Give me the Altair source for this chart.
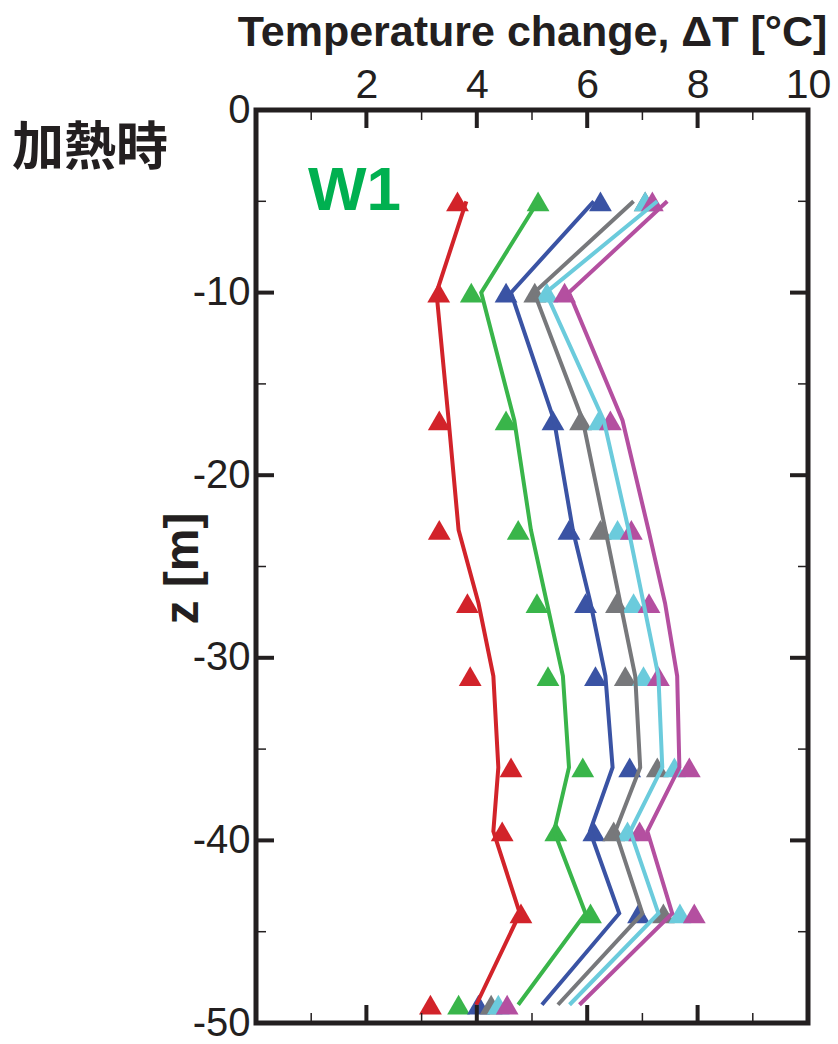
import altair as alt
import pandas as pd

# ---- data ----
depth = [-5, -10, -17, -23, -27, -31, -36, -39.5, -44, -49]

series_names = ["S1", "S2", "S3", "S4", "S5", "S6"]
series_colors = ["#D2232A", "#39B54A", "#3A53A4", "#77787B", "#6BCBDC", "#B44FA0"]

# measured (triangles)
meas_s1 = [3.65, 3.31, 3.32, 3.32, 3.83, 3.88, 4.62, 4.46, 4.80, 3.16]
meas_s2 = [5.11, 3.90, 4.53, 4.75, 5.09, 5.29, 5.92, 5.43, 6.06, 3.67]
meas_s3 = [6.24, 4.53, 5.38, 5.67, 5.97, 6.15, 6.77, 6.12, 6.93, 4.03]
meas_s4 = [7.05, 5.05, 5.88, 6.24, 6.53, 6.69, 7.27, 6.48, 7.38, 4.26]
meas_s5 = [7.05, 5.27, 6.21, 6.55, 6.84, 7.02, 7.58, 6.73, 7.68, 4.39]
meas_s6 = [7.18, 5.59, 6.42, 6.80, 7.12, 7.29, 7.85, 6.95, 7.94, 4.55]

# computed (lines)
model_s1 = [3.81, 3.27, 3.49, 3.67, 4.03, 4.30, 4.39, 4.30, 4.78, 3.99]
model_s2 = [5.11, 4.08, 4.68, 4.98, 5.27, 5.56, 5.67, 5.40, 5.97, 4.75]
model_s3 = [6.12, 4.62, 5.40, 5.74, 6.06, 6.33, 6.46, 6.05, 6.58, 5.18]
model_s4 = [6.84, 5.04, 5.92, 6.33, 6.60, 6.87, 6.96, 6.51, 7.00, 5.47]
model_s5 = [7.27, 5.25, 6.30, 6.75, 7.02, 7.29, 7.36, 6.78, 7.29, 5.68]
model_s6 = [7.45, 5.67, 6.64, 7.11, 7.41, 7.63, 7.67, 7.09, 7.54, 5.86]

x_ticks_major = [2, 4, 6, 8]
x_ticks_minor = [1, 3, 5, 7, 9]
x_labels = [2, 4, 6, 8, 10]
y_ticks_major = [-10, -20, -30, -40]
y_ticks_minor = [-5, -15, -25, -35, -45]
y_labels = [0, -10, -20, -30, -40, -50]

x_title = "Temperature change, ΔT [°C]"
y_title = "z [m]"
label_state = ["加熱時"]
label_well = ["W1"]

# ---- tables ----
meas_all = [meas_s1, meas_s2, meas_s3, meas_s4, meas_s5, meas_s6]
model_all = [model_s1, model_s2, model_s3, model_s4, model_s5, model_s6]
rows_m, rows_l = [], []
for name, mv, lv in zip(series_names, meas_all, model_all):
    for i, (z, a, b) in enumerate(zip(depth, mv, lv)):
        rows_m.append({"series": name, "z": z, "dT": a, "i": i})
        rows_l.append({"series": name, "z": z, "dT": b, "i": i})
df_meas = pd.DataFrame(rows_m)
df_model = pd.DataFrame(rows_l)

W, H = 552, 913
INK = "#231F20"
FONT = "Liberation Sans"

xs = alt.Scale(domain=[0, 10], nice=False, zero=False)
ys = alt.Scale(domain=[-50, 0], nice=False, zero=False)
cs = alt.Scale(domain=series_names, range=series_colors)

x_axis = alt.Axis(
    orient="top", values=x_labels, title=x_title, grid=False, ticks=False, tickSize=0,
    domain=False, labelFontSize=41, labelFont=FONT, labelColor=INK, labelPadding=4,
    labelFlush=False, titleFont=FONT, titleFontSize=43, titleFontWeight="bold",
    titleColor=INK, titleY=-65, titleBaseline="alphabetic",
)
y_axis = alt.Axis(
    orient="left", values=y_labels, title=y_title, grid=False, ticks=False, tickSize=0,
    domain=False, labelFontSize=40, labelFont=FONT, labelColor=INK, labelPadding=6,
    labelFlush=False, labelExpr="'' + datum.value",
    titleFont=FONT, titleFontSize=48, titleFontWeight="bold",
    titleColor=INK, titleX=-73, titleY=458, titleAngle=270, titleAlign="center",
    titleBaseline="middle",
)

points = alt.Chart(df_meas).mark_point(
    shape="triangle-up", filled=True, size=520, opacity=1, strokeWidth=0
).encode(
    x=alt.X("dT:Q", scale=xs, axis=x_axis),
    y=alt.Y("z:Q", scale=ys, axis=y_axis),
    color=alt.Color("series:N", scale=cs, legend=None),
    order=alt.Order("i:Q"),
)

lines = alt.Chart(df_model).mark_line(strokeWidth=4).encode(
    x=alt.X("dT:Q", scale=xs, axis=x_axis),
    y=alt.Y("z:Q", scale=ys, axis=y_axis),
    color=alt.Color("series:N", scale=cs, legend=None),
    detail="series:N",
    order=alt.Order("i:Q"),
)

def xtick_layer(vals, y0, y1, sw):
    return alt.Chart(pd.DataFrame({"dT": vals})).mark_rule(color=INK, strokeWidth=sw).encode(
        x=alt.X("dT:Q", scale=xs, axis=x_axis), y=alt.value(y0), y2=alt.value(y1)
    )

def ytick_layer(vals, x0, x1, sw):
    return alt.Chart(pd.DataFrame({"z": vals})).mark_rule(color=INK, strokeWidth=sw).encode(
        y=alt.Y("z:Q", scale=ys, axis=y_axis), x=alt.value(x0), x2=alt.value(x1)
    )

MAJ, MIN = 18, 10
ticks = [
    xtick_layer(x_ticks_major, 0, MAJ, 4),
    xtick_layer(x_ticks_minor, 0, MIN, 1.5),
    xtick_layer(x_ticks_major, H - MAJ, H, 4),
    xtick_layer(x_ticks_minor, H - MIN, H, 1.5),
    ytick_layer(y_ticks_major, 0, MAJ, 4),
    ytick_layer(y_ticks_minor, 0, MIN, 1.5),
    ytick_layer(y_ticks_major, W - MAJ, W, 4),
    ytick_layer(y_ticks_minor, W - MIN, W, 1.5),
]

state_text = alt.Chart(pd.DataFrame({"t": label_state})).mark_text(
    font="Noto Sans CJK JP", fontSize=52, fontWeight="bold", color=INK,
    align="center", baseline="middle",
).encode(text="t:N", x=alt.value(-166), y=alt.value(39))

well_text = alt.Chart(pd.DataFrame({"t": label_well})).mark_text(
    font=FONT, fontSize=62, fontWeight="bold", color="#00B050",
    align="left", baseline="alphabetic",
).encode(text="t:N", x=alt.value(52), y=alt.value(100))

chart = alt.layer(points, lines, *ticks, state_text, well_text).properties(
    width=W, height=H,
    autosize=alt.AutoSizeParams(type="none"),
    padding={"left": 256, "top": 110, "right": 30, "bottom": 21},
    background="white",
).configure_view(stroke=INK, strokeWidth=5)

chart.save("out.html", embed_options={"renderer": "svg", "actions": False})
